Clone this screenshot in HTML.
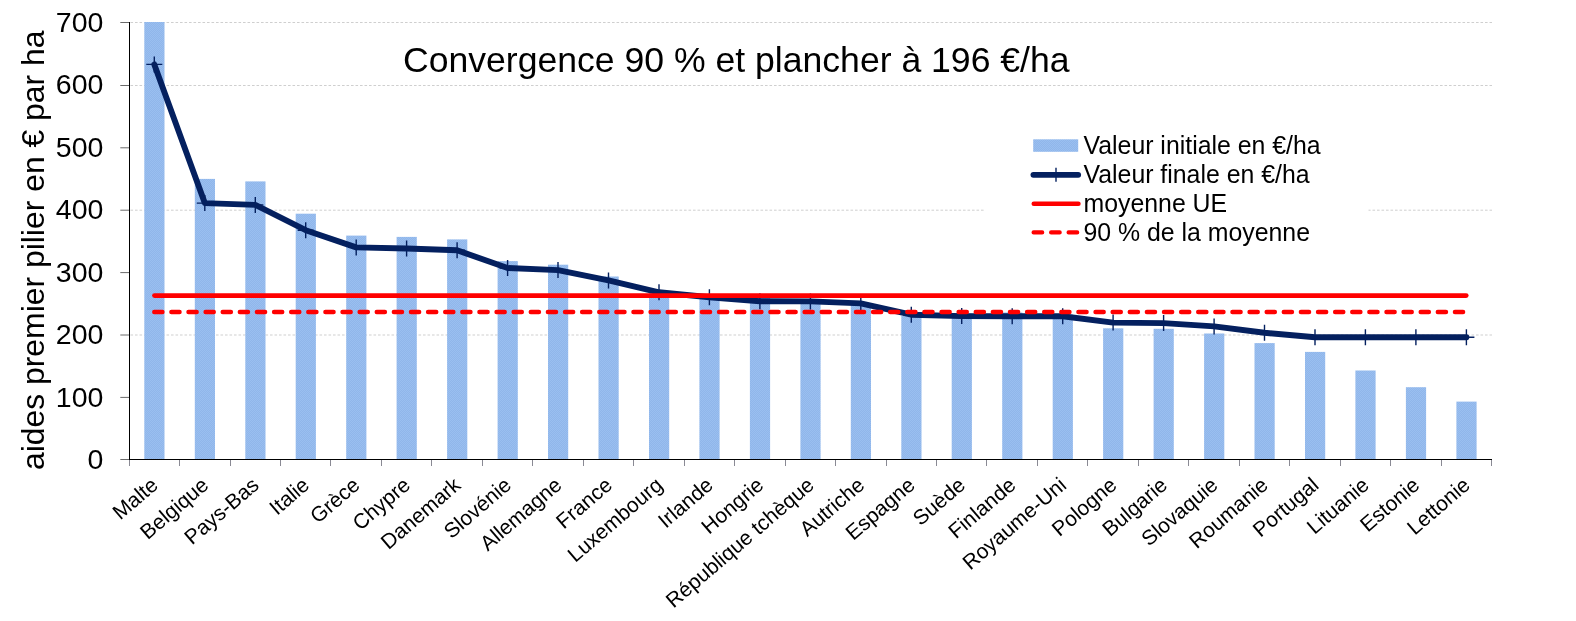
<!DOCTYPE html>
<html lang="fr"><head><meta charset="utf-8"><title>Convergence 90 % et plancher à 196 €/ha</title>
<style>html,body{margin:0;padding:0;background:#fff}body{width:1576px;height:621px;overflow:hidden}svg{display:block;will-change:transform}text{font-family:"Liberation Sans", Arial, sans-serif;fill:#000}</style></head><body>
<svg width="1576" height="621" viewBox="0 0 1576 621">
<rect width="1576" height="621" fill="#fff"/>
<defs><pattern id="bp" width="2" height="2" patternUnits="userSpaceOnUse"><rect width="2" height="2" fill="#90b6ea"/><rect width="1" height="1" fill="#9abff0"/><rect x="1" y="1" width="1" height="1" fill="#9abff0"/></pattern></defs>
<g stroke="#cfcfcf" stroke-width="1" stroke-dasharray="2.6 1.9" fill="none">
<line x1="130.5" y1="22.5" x2="1492.0" y2="22.5"/>
<line x1="130.5" y1="85.5" x2="1492.0" y2="85.5"/>
<line x1="130.5" y1="210.2" x2="1492.0" y2="210.2"/>
<line x1="130.5" y1="335.0" x2="1492.0" y2="335.0"/>
</g>
<rect x="985" y="120" width="383.5" height="135" fill="#fff"/>
<g fill="url(#bp)">
<rect x="144.3" y="22.0" width="20.2" height="437.0"/>
<rect x="194.8" y="178.9" width="20.2" height="280.1"/>
<rect x="245.3" y="181.4" width="20.2" height="277.6"/>
<rect x="295.7" y="213.7" width="20.2" height="245.3"/>
<rect x="346.2" y="235.6" width="20.2" height="223.4"/>
<rect x="396.6" y="236.9" width="20.2" height="222.1"/>
<rect x="447.1" y="239.4" width="20.2" height="219.6"/>
<rect x="497.6" y="261.1" width="20.2" height="197.9"/>
<rect x="548.0" y="264.7" width="20.2" height="194.3"/>
<rect x="598.5" y="276.5" width="20.2" height="182.5"/>
<rect x="649.0" y="291.0" width="20.2" height="168.0"/>
<rect x="699.4" y="296.0" width="20.2" height="163.0"/>
<rect x="749.9" y="297.5" width="20.2" height="161.5"/>
<rect x="800.4" y="299.0" width="20.2" height="160.0"/>
<rect x="850.8" y="303.5" width="20.2" height="155.5"/>
<rect x="901.3" y="316.0" width="20.2" height="143.0"/>
<rect x="951.7" y="313.5" width="20.2" height="145.5"/>
<rect x="1002.2" y="312.5" width="20.2" height="146.5"/>
<rect x="1052.7" y="314.5" width="20.2" height="144.5"/>
<rect x="1103.1" y="328.3" width="20.2" height="130.7"/>
<rect x="1153.6" y="328.8" width="20.2" height="130.2"/>
<rect x="1204.1" y="333.5" width="20.2" height="125.5"/>
<rect x="1254.5" y="343.1" width="20.2" height="115.9"/>
<rect x="1305.0" y="351.9" width="20.2" height="107.1"/>
<rect x="1355.4" y="370.5" width="20.2" height="88.5"/>
<rect x="1405.9" y="387.2" width="20.2" height="71.8"/>
<rect x="1456.4" y="401.6" width="20.2" height="57.4"/>
</g>
<g stroke="#000" stroke-width="1" fill="none">
<line x1="129.5" y1="22" x2="129.5" y2="460"/>
<line x1="129.0" y1="459.5" x2="1492.0" y2="459.5"/>
</g>
<g stroke="#6a6a6a" stroke-width="1" fill="none">
<line x1="120.3" y1="459.5" x2="129" y2="459.5"/>
<line x1="120.3" y1="397.4" x2="129" y2="397.4"/>
<line x1="120.3" y1="335.0" x2="129" y2="335.0"/>
<line x1="120.3" y1="272.6" x2="129" y2="272.6"/>
<line x1="120.3" y1="210.2" x2="129" y2="210.2"/>
<line x1="120.3" y1="147.8" x2="129" y2="147.8"/>
<line x1="120.3" y1="85.5" x2="129" y2="85.5"/>
<line x1="120.3" y1="22.5" x2="129" y2="22.5"/>
</g><g stroke="#8a8a94" stroke-width="1" fill="none">
<line x1="129.5" y1="460" x2="129.5" y2="466"/>
<line x1="179.5" y1="460" x2="179.5" y2="466"/>
<line x1="230.5" y1="460" x2="230.5" y2="466"/>
<line x1="280.5" y1="460" x2="280.5" y2="466"/>
<line x1="330.5" y1="460" x2="330.5" y2="466"/>
<line x1="381.5" y1="460" x2="381.5" y2="466"/>
<line x1="431.5" y1="460" x2="431.5" y2="466"/>
<line x1="482.5" y1="460" x2="482.5" y2="466"/>
<line x1="532.5" y1="460" x2="532.5" y2="466"/>
<line x1="583.5" y1="460" x2="583.5" y2="466"/>
<line x1="633.5" y1="460" x2="633.5" y2="466"/>
<line x1="684.5" y1="460" x2="684.5" y2="466"/>
<line x1="734.5" y1="460" x2="734.5" y2="466"/>
<line x1="785.5" y1="460" x2="785.5" y2="466"/>
<line x1="835.5" y1="460" x2="835.5" y2="466"/>
<line x1="886.5" y1="460" x2="886.5" y2="466"/>
<line x1="936.5" y1="460" x2="936.5" y2="466"/>
<line x1="986.5" y1="460" x2="986.5" y2="466"/>
<line x1="1037.5" y1="460" x2="1037.5" y2="466"/>
<line x1="1087.5" y1="460" x2="1087.5" y2="466"/>
<line x1="1138.5" y1="460" x2="1138.5" y2="466"/>
<line x1="1188.5" y1="460" x2="1188.5" y2="466"/>
<line x1="1239.5" y1="460" x2="1239.5" y2="466"/>
<line x1="1289.5" y1="460" x2="1289.5" y2="466"/>
<line x1="1340.5" y1="460" x2="1340.5" y2="466"/>
<line x1="1390.5" y1="460" x2="1390.5" y2="466"/>
<line x1="1441.5" y1="460" x2="1441.5" y2="466"/>
<line x1="1491.5" y1="460" x2="1491.5" y2="466"/>
</g>
<polyline points="154.3,64.4 204.8,203.1 255.3,204.9 305.7,230.2 356.2,247.4 406.6,248.5 457.1,250.3 507.6,268.0 558.0,270.1 608.5,280.4 659.0,292.3 709.4,297.3 759.9,301.3 810.4,301.4 860.8,303.4 911.3,314.7 961.7,316.1 1012.2,316.2 1062.7,316.2 1113.1,322.6 1163.6,323.1 1214.1,326.4 1264.5,332.8 1315.0,337.3 1365.4,337.3 1415.9,337.3 1466.4,337.3" fill="none" stroke="#04205f" stroke-width="5.9" stroke-linejoin="round" stroke-linecap="round"/>
<g stroke="#04205f" stroke-width="1.4" fill="none">
<path d="M154.3 56.4V72.4M146.3 64.4H162.3"/>
<path d="M204.8 195.1V211.1M196.8 203.1H212.8"/>
<path d="M255.3 196.9V212.9M247.3 204.9H263.3"/>
<path d="M305.7 222.2V238.2M297.7 230.2H313.7"/>
<path d="M356.2 239.4V255.4M348.2 247.4H364.2"/>
<path d="M406.6 240.5V256.5M398.6 248.5H414.6"/>
<path d="M457.1 242.3V258.3M449.1 250.3H465.1"/>
<path d="M507.6 260.0V276.0M499.6 268.0H515.6"/>
<path d="M558.0 262.1V278.1M550.0 270.1H566.0"/>
<path d="M608.5 272.4V288.4M600.5 280.4H616.5"/>
<path d="M659.0 284.3V300.3M651.0 292.3H667.0"/>
<path d="M709.4 289.3V305.3M701.4 297.3H717.4"/>
<path d="M759.9 293.3V309.3M751.9 301.3H767.9"/>
<path d="M810.4 293.4V309.4M802.4 301.4H818.4"/>
<path d="M860.8 295.4V311.4M852.8 303.4H868.8"/>
<path d="M911.3 306.7V322.7M903.3 314.7H919.3"/>
<path d="M961.7 308.1V324.1M953.7 316.1H969.7"/>
<path d="M1012.2 308.2V324.2M1004.2 316.2H1020.2"/>
<path d="M1062.7 308.2V324.2M1054.7 316.2H1070.7"/>
<path d="M1113.1 314.6V330.6M1105.1 322.6H1121.1"/>
<path d="M1163.6 315.1V331.1M1155.6 323.1H1171.6"/>
<path d="M1214.1 318.4V334.4M1206.1 326.4H1222.1"/>
<path d="M1264.5 324.8V340.8M1256.5 332.8H1272.5"/>
<path d="M1315.0 329.3V345.3M1307.0 337.3H1323.0"/>
<path d="M1365.4 329.3V345.3M1357.4 337.3H1373.4"/>
<path d="M1415.9 329.3V345.3M1407.9 337.3H1423.9"/>
<path d="M1466.4 329.3V345.3M1458.4 337.3H1474.4"/>
</g>
<line x1="154.5" y1="295.6" x2="1466.2" y2="295.6" stroke="#ff0000" stroke-width="4.8" stroke-linecap="round"/>
<line x1="154.25" y1="312.0" x2="1466.4" y2="312.0" stroke="#ff0000" stroke-width="4.4" stroke-linecap="round" stroke-dasharray="8.2 8.914"/>
<g font-size="28.5" text-anchor="end">
<text x="103.4" y="468.9">0</text>
<text x="103.4" y="406.5">100</text>
<text x="103.4" y="344.0">200</text>
<text x="103.4" y="281.6">300</text>
<text x="103.4" y="219.2">400</text>
<text x="103.4" y="156.8">500</text>
<text x="103.4" y="94.3">600</text>
<text x="103.4" y="31.9">700</text>
</g>
<text transform="translate(44.4 470.1) rotate(-90)" font-size="31.9">aides premier pilier en € par ha</text>
<text x="403" y="71.8" font-size="35.6">Convergence 90 % et plancher à 196 €/ha</text>
<g font-size="21" text-anchor="end">
<text transform="translate(159.3 487.1) rotate(-40.6)">Malte</text>
<text transform="translate(209.8 487.1) rotate(-40.6)">Belgique</text>
<text transform="translate(260.3 487.1) rotate(-40.6)">Pays-Bas</text>
<text transform="translate(310.7 487.1) rotate(-40.6)">Italie</text>
<text transform="translate(361.2 487.1) rotate(-40.6)">Grèce</text>
<text transform="translate(411.6 487.1) rotate(-40.6)">Chypre</text>
<text transform="translate(462.1 487.1) rotate(-40.6)">Danemark</text>
<text transform="translate(512.6 487.1) rotate(-40.6)">Slovénie</text>
<text transform="translate(563.0 487.1) rotate(-40.6)">Allemagne</text>
<text transform="translate(613.5 487.1) rotate(-40.6)">France</text>
<text transform="translate(664.0 487.1) rotate(-40.6)">Luxembourg</text>
<text transform="translate(714.4 487.1) rotate(-40.6)">Irlande</text>
<text transform="translate(764.9 487.1) rotate(-40.6)">Hongrie</text>
<text transform="translate(815.4 487.1) rotate(-40.6)">République tchèque</text>
<text transform="translate(865.8 487.1) rotate(-40.6)">Autriche</text>
<text transform="translate(916.3 487.1) rotate(-40.6)">Espagne</text>
<text transform="translate(966.7 487.1) rotate(-40.6)">Suède</text>
<text transform="translate(1017.2 487.1) rotate(-40.6)">Finlande</text>
<text transform="translate(1067.7 487.1) rotate(-40.6)">Royaume-Uni</text>
<text transform="translate(1118.1 487.1) rotate(-40.6)">Pologne</text>
<text transform="translate(1168.6 487.1) rotate(-40.6)">Bulgarie</text>
<text transform="translate(1219.1 487.1) rotate(-40.6)">Slovaquie</text>
<text transform="translate(1269.5 487.1) rotate(-40.6)">Roumanie</text>
<text transform="translate(1320.0 487.1) rotate(-40.6)">Portugal</text>
<text transform="translate(1370.4 487.1) rotate(-40.6)">Lituanie</text>
<text transform="translate(1420.9 487.1) rotate(-40.6)">Estonie</text>
<text transform="translate(1471.4 487.1) rotate(-40.6)">Lettonie</text>
</g>
<rect x="1033.2" y="139.3" width="45" height="12.5" fill="url(#bp)"/>
<line x1="1033.4" y1="174.8" x2="1078.2" y2="174.8" stroke="#04205f" stroke-width="5.8" stroke-linecap="round"/>
<path d="M1056 167.7V181.7" stroke="#04205f" stroke-width="1.4" fill="none"/>
<line x1="1033.8" y1="203.7" x2="1078.4" y2="203.7" stroke="#ff0000" stroke-width="4.6" stroke-linecap="round"/>
<line x1="1033.6" y1="232.4" x2="1077.2" y2="232.4" stroke="#ff0000" stroke-width="4.2" stroke-linecap="round" stroke-dasharray="8.6 8.9"/>
<g font-size="24.85">
<text x="1083.5" y="153.5">Valeur initiale en €/ha</text>
<text x="1083.5" y="183.4">Valeur finale en €/ha</text>
<text x="1083.5" y="211.5">moyenne UE</text>
<text x="1083.5" y="241.0">90 % de la moyenne</text>
</g>
</svg></body></html>
